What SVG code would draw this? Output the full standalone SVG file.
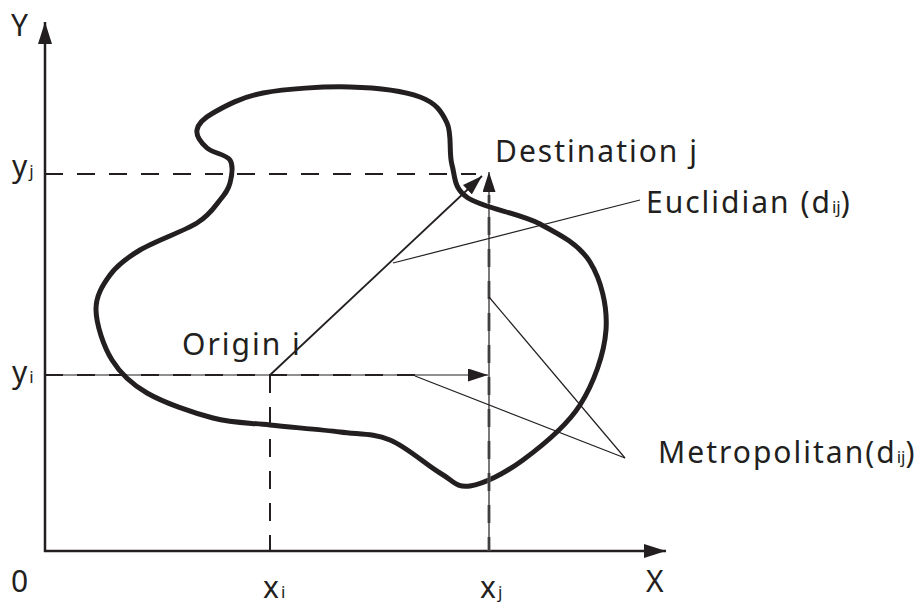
<svg xmlns="http://www.w3.org/2000/svg" width="916" height="607" viewBox="0 0 916 607">
<style>
.t{font-family:"Noto Sans","Open Sans","Liberation Sans",sans-serif;font-size:30px;fill:#231f20;letter-spacing:2px}
.s{font-size:17px;letter-spacing:0}
.ax{stroke:#231f20;stroke-width:2.5;fill:none}
.dash{stroke:#231f20;stroke-width:2;stroke-dasharray:18 14;fill:none}
.gdash{stroke:#6d6b6c;stroke-width:3;stroke-dasharray:18 14;fill:none}
.thin{stroke:#231f20;stroke-width:1.2;fill:none}
.arr{stroke:#231f20;stroke-width:1.8;fill:none}
.blob{stroke:#231f20;stroke-width:5;fill:none;stroke-linejoin:round}
</style>
<defs>
<marker id="ah" markerUnits="userSpaceOnUse" markerWidth="20" markerHeight="13" refX="20" refY="6.5" orient="auto" viewBox="0 0 20 13">
<path d="M0,0 L20,6.5 L0,13 z" fill="#231f20"/>
</marker>
<marker id="ahb" markerUnits="userSpaceOnUse" markerWidth="22" markerHeight="14" refX="22" refY="7" orient="auto" viewBox="0 0 22 14">
<path d="M0,0 L22,7 L0,14 z" fill="#231f20"/>
</marker>
</defs>

<g id="axes">
<line class="ax" x1="45" y1="552" x2="45" y2="22" marker-end="url(#ahb)"/>
<line class="ax" x1="44" y1="551" x2="666" y2="551" marker-end="url(#ahb)"/>
</g>

<g id="region">
<path class="blob" d="M230,183 C231.7,176.3 233.8,165.8 230,160 C226.2,154.2 212.5,153 207,148 C201.5,143 196,135.8 197,130 C198,124.2 202,119.2 213,113 C224,106.8 240.2,97.3 263,93 C285.8,88.7 323.8,86.3 350,87 C376.2,87.7 403.8,91 420,97 C436.2,103 441.7,111.7 447,123 C452.3,134.3 448.5,152.5 452,165 C455.5,177.5 453.3,188.2 468,198 C482.7,207.8 519.7,213.3 540,224 C560.3,234.7 579,244.3 590,262 C601,279.7 607.7,306.2 606,330 C604.3,353.8 593.8,383.3 580,405 C566.2,426.7 541.3,446.5 523,460 C504.7,473.5 483.8,483.8 470,486 C456.2,488.2 453.3,480.7 440,473 C426.7,465.3 406.7,446.8 390,440 C373.3,433.2 360,434.5 340,432 C320,429.5 291.2,427.3 270,425 C248.8,422.7 233.5,423.3 213,418 C192.5,412.7 163.8,402.7 147,393 C130.2,383.3 120.5,373.8 112,360 C103.5,346.2 96.3,324.2 96,310 C95.7,295.8 102.7,285 110,275 C117.3,265 125.5,258.7 140,250 C154.5,241.3 183.7,231.3 197,223 C210.3,214.7 214.5,206.7 220,200 C225.5,193.3 228.3,189.7 230,183 Z"/>
</g>

<g id="connectors">
<line class="dash" x1="45" y1="174" x2="476" y2="174"/>
<line class="dash" x1="270" y1="375" x2="270" y2="551"/>
<line class="thin" x1="45" y1="375" x2="488" y2="375" marker-end="url(#ah)"/>
<line class="dash" x1="45" y1="375" x2="416" y2="375"/>
<line class="gdash" x1="489" y1="551" x2="489" y2="195" stroke-dashoffset="4"/>
<line class="thin" x1="489" y1="551" x2="489" y2="172" marker-end="url(#ah)"/>
<line class="arr" x1="270" y1="375" x2="482" y2="176" marker-end="url(#ah)"/>
<line class="thin" x1="393" y1="263" x2="640" y2="200"/>
<line class="thin" x1="489" y1="297" x2="625" y2="458"/>
<line class="thin" x1="415" y1="376" x2="625" y2="458"/>
</g>

<g id="labels">
<text class="t" x="11" y="36">Y</text>
<text class="t" x="12" y="177">y<tspan class="s">j</tspan></text>
<text class="t" x="12" y="383">y<tspan class="s">i</tspan></text>
<text class="t" x="11" y="592">0</text>
<text class="t" x="646" y="592">X</text>
<text class="t" x="263" y="598">x<tspan class="s">i</tspan></text>
<text class="t" x="480" y="598">x<tspan class="s">j</tspan></text>
</g>

<g id="origin"><text class="t" x="182" y="355">Origin i</text></g>
<g id="destination"><text class="t" x="495" y="162">Destination j</text></g>
<g id="euclidian"><text class="t" x="646" y="213">Euclidian (d<tspan class="s">ij</tspan>)</text></g>
<g id="metropolitan"><text class="t" x="658" y="463">Metropolitan(d<tspan class="s">ij</tspan>)</text></g>
</svg>
